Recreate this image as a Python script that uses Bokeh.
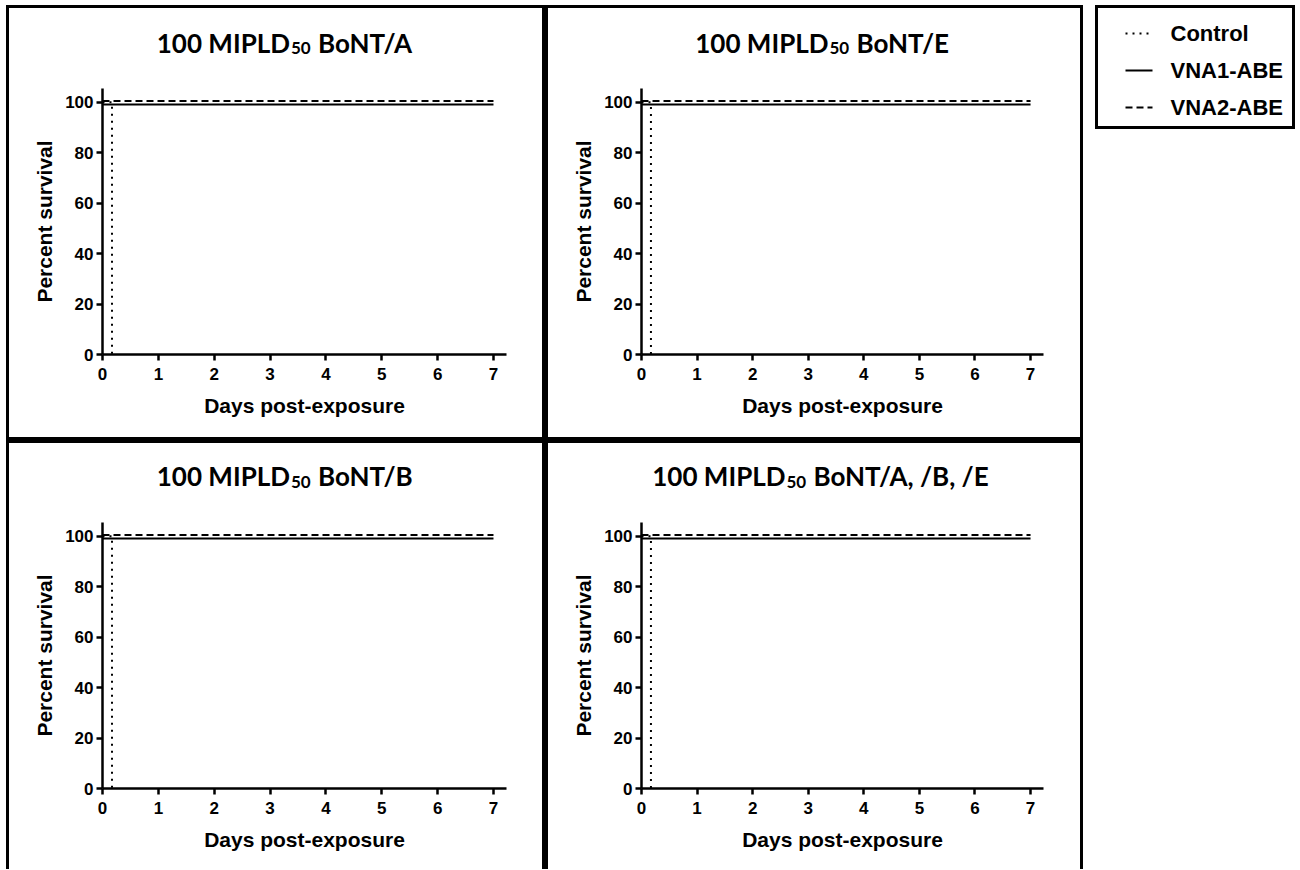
from bokeh.plotting import figure
from bokeh.models import Range1d, FixedTicker, ColumnDataSource, Spacer
from bokeh.layouts import row, column
from bokeh.transform import dodge
from bokeh.core.properties import value
from bokeh.embed import file_html
from bokeh.resources import INLINE

# ---------------- data ----------------
panel_toxins = ["BoNT/A", "BoNT/E", "BoNT/B", "BoNT/A, /B, /E"]
dose_prefix = "100 MIPLD"
dose_sub = "50"
series_names = ["Control", "VNA1-ABE", "VNA2-ABE"]

control_days = [0, 0.17, 0.17]
control_survival = [100, 100, 0]
vna1_days = [0, 7]
vna1_survival = [100, 100]
vna2_days = [0, 7]
vna2_survival = [100, 100]

day_ticks = [0, 1, 2, 3, 4, 5, 6, 7]
survival_ticks = [0, 20, 40, 60, 80, 100]
x_label = "Days post-exposure"
y_label = "Percent survival"

# ---------------- styling ----------------
X_END = 7.233
Y_END = 105.5
AX_FONT = "Liberation Sans"
TITLE_FONT = "Lato"
K = "#000000"


def shadow(left=False, right=False, top=False, bottom=False):
    parts = []
    if left:
        parts.append("inset 3px 0 0 0 #000")
    if right:
        parts.append("inset -3px 0 0 0 #000")
    if top:
        parts.append("inset 0 3px 0 0 #000")
    if bottom:
        parts.append("inset 0 -3px 0 0 #000")
    return {"box-shadow": ", ".join(parts) if parts else "none"}


def pixel_fig(bl, fw, br, bt, fh, bb):
    # a figure whose data coordinates equal the host's pixel coordinates (y downwards)
    f = figure(frame_width=fw, frame_height=fh,
               x_range=Range1d(bl, bl + fw), y_range=Range1d(bt + fh, bt),
               output_backend="svg", toolbar_location=None,
               x_axis_location=None, y_axis_location=None)
    f.min_border_left = bl
    f.min_border_right = br
    f.min_border_top = bt
    f.min_border_bottom = bb
    f.outline_line_color = None
    f.border_fill_color = None
    f.background_fill_color = None
    f.grid.visible = False
    return f


def title_strip(toxin, fw, br, split, base):
    t = pixel_fig(96, fw, br, 12, 48, 0)
    t.text(x=[split], y=[base], text=[dose_prefix], text_font=value(TITLE_FONT),
           text_font_style="bold", text_font_size="26px", text_align="right",
           text_baseline="alphabetic", text_color=K)
    t.text(x=[split + 1], y=[base + 5.5], text=[dose_sub], text_font=value(TITLE_FONT),
           text_font_style="bold", text_font_size="17px", text_align="left",
           text_baseline="alphabetic", text_color=K)
    t.text(x=[split + 28], y=[base], text=[toxin], text_font=value(TITLE_FONT),
           text_font_style="bold", text_font_size="26px", text_align="left",
           text_baseline="alphabetic", text_color=K)
    t.styles = shadow(left=True, right=True, top=True)
    return t


def plot_fig(fl, fw, fr, ft, fh, fb, bottom_border):
    p = figure(frame_width=fw, frame_height=fh,
               x_range=Range1d(0, X_END), y_range=Range1d(0, Y_END),
               output_backend="svg", toolbar_location=None,
               min_border_left=fl, min_border_right=fr,
               min_border_top=ft, min_border_bottom=fb)
    p.outline_line_color = None
    p.xgrid.visible = False
    p.ygrid.visible = False
    p.background_fill_color = "white"
    p.border_fill_color = None

    p.xaxis.ticker = FixedTicker(ticks=day_ticks)
    p.yaxis.ticker = FixedTicker(ticks=survival_ticks)
    p.xaxis.axis_label = x_label
    p.yaxis.axis_label = y_label
    for ax in (p.xaxis[0], p.yaxis[0]):
        ax.axis_line_width = 2.5
        ax.axis_line_color = K
        ax.major_tick_line_width = 2.5
        ax.major_tick_line_color = K
        ax.major_tick_out = 6
        ax.major_tick_in = 0
        ax.minor_tick_line_color = None
        ax.major_label_text_font = AX_FONT
        ax.major_label_text_font_style = "bold"
        ax.major_label_text_font_size = "17px"
        ax.major_label_text_color = K
        ax.axis_label_text_font = AX_FONT
        ax.axis_label_text_font_style = "bold"
        ax.axis_label_text_font_size = "21px"
        ax.axis_label_text_color = K
    p.xaxis.major_label_standoff = 7
    p.yaxis.major_label_standoff = 3
    p.xaxis.axis_label_standoff = 11
    p.yaxis.axis_label_standoff = 6

    src_c = ColumnDataSource(dict(d=control_days, s=control_survival))
    src_1 = ColumnDataSource(dict(d=vna1_days, s=vna1_survival))
    src_2 = ColumnDataSource(dict(d=vna2_days, s=vna2_survival))
    p.line(x="d", y="s", source=src_c, line_color=K, line_width=2, line_dash="2 5")
    p.line(x="d", y=dodge("s", -0.8), source=src_1, line_color=K, line_width=2)
    p.line(x="d", y=dodge("s", 0.5), source=src_2, line_color=K, line_width=2, line_dash="7 4")

    p.styles = shadow(left=True, right=True, bottom=bottom_border)
    return p


# top-left panel (host x 6..545, y 5..440)
t1 = title_strip(panel_toxins[0], 404, 39, 283.5, 37)
f1 = plot_fig(96, 404, 39, 23, 266, 86, True)
# top-right panel (host x 545..1083)
t2 = title_strip(panel_toxins[1], 402, 40, 283, 37)
f2 = plot_fig(96, 402, 40, 23, 266, 86, True)
# bottom-left panel (host y 440..869)
t3 = title_strip(panel_toxins[2], 404, 39, 283.5, 35.5)
f3 = plot_fig(96, 404, 39, 22, 266, 81, False)
# bottom-right panel
t4 = title_strip(panel_toxins[3], 402, 40, 240, 35.5)
f4 = plot_fig(96, 402, 40, 22, 266, 81, False)

# ---------------- legend (host x 1095..1295, y 5..129) ----------------
lf = pixel_fig(0, 200, 0, 0, 124, 0)
row_y = [28 + 37 * i for i in range(len(series_names))]
dashes = ["2 5", "solid", "7 4"]
for yy, dsh in zip(row_y, dashes):
    lf.line(x=[30, 57], y=[yy, yy], line_color=K, line_width=2, line_dash=dsh)
lf.text(x=[75] * len(series_names), y=row_y, text=series_names,
        text_font=value(AX_FONT), text_font_style="bold", text_font_size="22px",
        text_baseline="middle", text_align="left", text_color=K)
lf.styles = shadow(left=True, right=True, top=True, bottom=True)

top_row = row(Spacer(width=6), column(t1, f1), column(t2, f2), Spacer(width=12), lf)
bot_row = row(Spacer(width=6), column(t3, f3), column(t4, f4))
layout = column(Spacer(height=5), top_row, bot_row)

open("out.html", "w").write(file_html(layout, INLINE))
